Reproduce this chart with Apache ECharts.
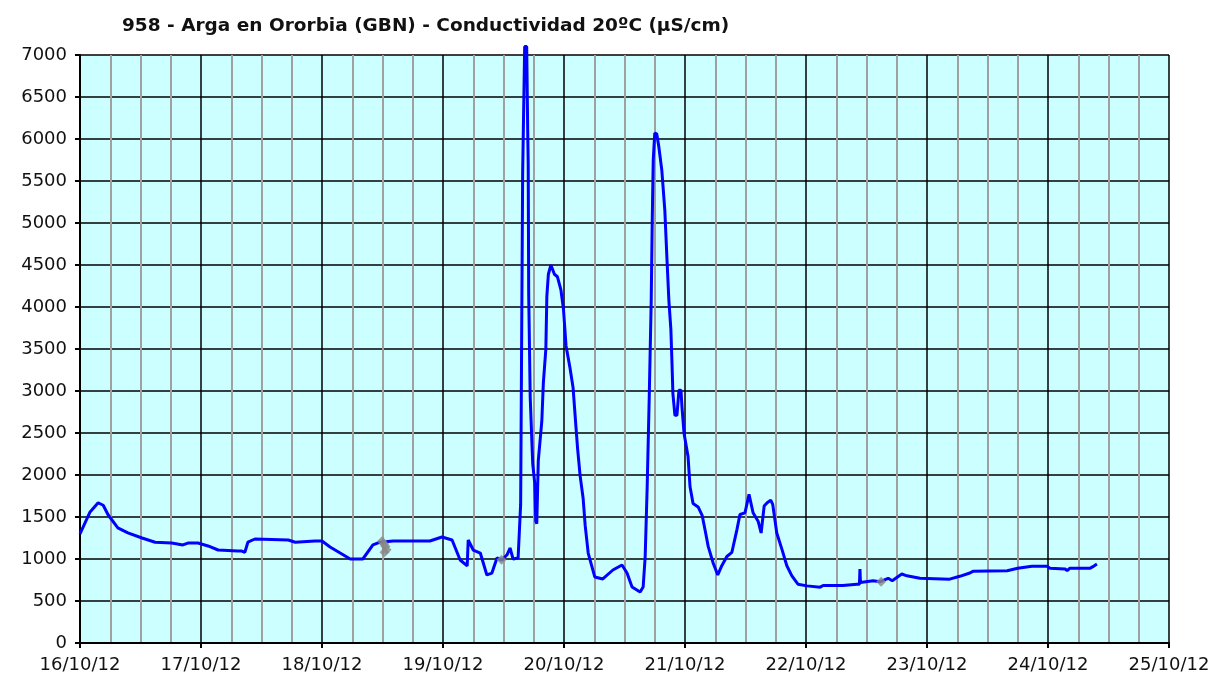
<!DOCTYPE html>
<html>
<head>
<meta charset="utf-8">
<script src="https://cdn.jsdelivr.net/npm/echarts@6/dist/echarts.min.js"></script>
<style>
html,body{margin:0;padding:0;background:#fff;}
#chart{width:1228px;height:684px;}
</style>
</head>
<body>
<div id="chart"></div>
<script>
// Hours since 16/10/12 00:00
var hours = [0,2.0,3.6,4.6,5.6,7.5,9.5,12.3,14.9,18.2,20.4,21.4,23.4,25.4,27.4,31.3,32.1,32.7,33.3,34.7,41.3,42.7,46.6,48.0,49.6,53.6,56.1,58.1,59.5,62.1,69.4,71.8,73.8,75.4,76.8,77.0,78.0,79.4,80.7,81.7,82.7,83.7,84.7,85.3,85.9,86.9,87.4,87.8,88.2,88.6,88.8,88.9,89.0,89.3,89.8,90.2,90.4,90.6,90.9,91.6,91.9,92.4,92.6,92.9,93.4,94.1,94.7,95.4,95.9,96.4,97.2,97.8,98.3,98.7,99.2,99.8,100.2,100.8,102.1,103.7,105.7,107.5,108.5,109.5,111.1,111.7,112.1,112.5,112.9,113.3,113.5,113.7,114.0,114.4,114.8,115.4,116.0,116.4,116.8,117.2,117.4,117.6,118.0,118.4,118.8,119.2,119.4,119.8,120.6,121.0,121.6,122.6,123.4,124.0,124.6,125.6,126.5,127.3,128.3,129.3,130.3,130.9,131.9,132.7,133.5,134.5,135.1,135.7,136.3,137.0,137.4,138.2,139.2,140.2,141.2,142.4,144.2,146.8,147.4,151.3,154.1,154.6,154.7,154.8,157.3,158.7,160.3,161.1,163.0,164.0,166.6,172.5,174.5,176.5,177.1,183.9,184.0,186.0,188.8,191.8,192.4,195.4,195.8,196.3,200.3,200.9,201.7];
var conductivity = [1300,1560,1670,1640,1524,1370,1310,1250,1200,1190,1167,1190,1190,1155,1107,1095,1095,1080,1200,1238,1226,1200,1214,1214,1143,1000,1000,1167,1200,1214,1214,1262,1226,988,917,1226,1107,1071,810,833,1012,988,1050,1131,1000,1012,1650,5600,7100,7100,6100,5700,4150,2920,2130,1900,1450,1420,2170,2640,3090,3500,4130,4390,4500,4390,4360,4200,3970,3540,3270,3040,2630,2310,1990,1720,1400,1071,786,762,869,929,833,667,607,667,1024,1860,2910,4080,5020,5750,6070,6060,5910,5630,5150,4600,4080,3730,3370,2970,2710,2710,3010,3010,2810,2500,2220,1860,1660,1620,1520,1340,1150,950,810,920,1030,1080,1350,1530,1550,1770,1550,1450,1310,1630,1670,1700,1650,1310,1120,920,800,700,680,665,685,685,700,700,880,720,740,730,770,742,821,800,770,760,794,833,853,861,881,889,913,913,889,881,861,889,889,909,940];
// Grey (flagged) readings
var greyHours = [59.9,60.3,60.6,60.8,60.4,83.6,158.9];
var greyValues = [1210,1180,1150,1110,1080,990,730];
var dateLabels = ['16/10/12','17/10/12','18/10/12','19/10/12','20/10/12','21/10/12','22/10/12','23/10/12','24/10/12','25/10/12'];
var yTicks = [0,500,1000,1500,2000,2500,3000,3500,4000,4500,5000,5500,6000,6500,7000];

var mainData = hours.map(function(h,i){return [h, conductivity[i]];});
var greyData = greyHours.map(function(h,i){return [h, greyValues[i]];});

var chart = echarts.init(document.getElementById('chart'));
chart.setOption({
  animation:false,
  backgroundColor:'#ffffff',
  title:{
    text:'958 - Arga en Ororbia (GBN) - Conductividad 20ºC (µS/cm)',
    left:117, top:12,
    textStyle:{fontFamily:'DejaVu Sans', fontWeight:'bold', fontSize:18.5, color:'#111'}
  },
  grid:{left:80, top:55, right:59, bottom:41, show:true, backgroundColor:'#CCFFFF', borderWidth:0},
  xAxis:{
    type:'value', min:0, max:216, interval:24,
    axisLine:{show:true, onZero:false, lineStyle:{color:'#000', width:2}},
    axisTick:{show:true, length:5, lineStyle:{color:'#000', width:2}},
    axisLabel:{
      margin:13, fontFamily:'DejaVu Sans', fontSize:18, color:'#111',
      formatter:function(v){return dateLabels[Math.round(v/24)];}
    },
    splitLine:{show:true, lineStyle:{color:'#000', width:1.5}},
    minorTick:{show:false, splitNumber:4},
    minorSplitLine:{show:true, lineStyle:{color:'#a0a0a0', width:2}}
  },
  yAxis:{
    type:'value', min:0, max:7000, interval:500,
    axisLine:{show:true, lineStyle:{color:'#000', width:2}},
    axisTick:{show:true, length:5, lineStyle:{color:'#000', width:2}},
    axisLabel:{
      margin:13, fontFamily:'DejaVu Sans', fontSize:18, color:'#111',
      formatter:function(v){return yTicks.indexOf(v) >= 0 ? String(v) : '';}
    },
    splitLine:{show:true, lineStyle:{color:'#000', width:1.5}}
  },
  series:[
    {
      type:'line', data:mainData, showSymbol:false, clip:false,
      lineStyle:{color:'#0000FF', width:3}, z:3
    },
    {
      type:'scatter', data:greyData, symbol:'diamond', symbolSize:10,
      itemStyle:{color:'#888888'}, z:10
    }
  ]
});
</script>
</body>
</html>
